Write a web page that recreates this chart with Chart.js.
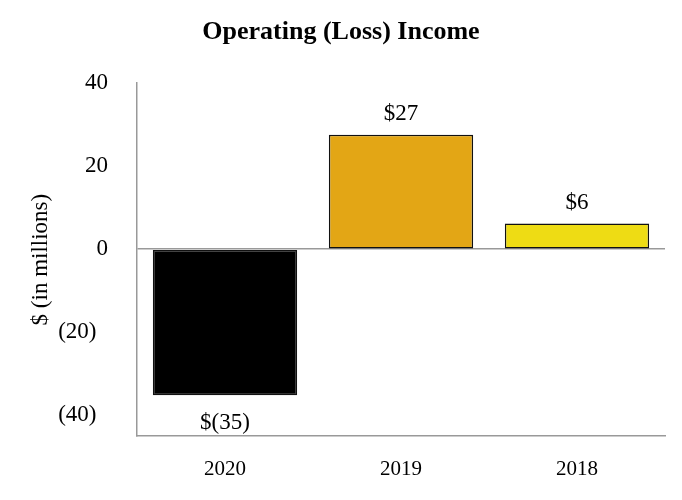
<!DOCTYPE html>
<html>
<head>
<meta charset="utf-8">
<script src="https://cdn.jsdelivr.net/npm/chart.js@4/dist/chart.umd.min.js"></script>
<style>
  html, body { margin: 0; padding: 0; background: #fff; }
  #wrap { width: 682px; height: 500px; }
</style>
</head>
<body>
<div id="wrap"><canvas id="incomeChart"></canvas></div>
<script>
// Operating (Loss) Income - values in $ millions
const years = ['2020', '2019', '2018'];
const income = [-35.2, 27.6, 6.2];
const valueLabels = ['$(35)', '$27', '$6'];
const yTicks = [40, 20, 0, -20, -40];
const barColors = ['#000000', '#E3A615', '#EEDC14'];

const serif = 'Liberation Serif, Times New Roman, serif';

// draws the $ labels above / below each bar
const barLabels = {
  id: 'barLabels',
  afterDatasetsDraw(chart) {
    const ctx = chart.ctx;
    const meta = chart.getDatasetMeta(0);
    ctx.save();
    ctx.font = '23px ' + serif;
    ctx.fillStyle = '#000';
    ctx.textAlign = 'center';
    ctx.textBaseline = 'middle';
    meta.data.forEach((bar, i) => {
      const v = income[i];
      const y = v >= 0 ? bar.y - 21 : bar.y + 28;
      ctx.fillText(valueLabels[i], bar.x, y);
    });
    ctx.restore();
  }
};

new Chart(document.getElementById('incomeChart').getContext('2d'), {
  type: 'bar',
  data: {
    labels: years,
    datasets: [{
      data: income,
      backgroundColor: barColors,
      borderColor: '#111',
      borderWidth: 1.5,
      borderSkipped: false,
      barPercentage: 0.82,
      categoryPercentage: 1
    }]
  },
  options: {
    responsive: true,
    maintainAspectRatio: false,
    animation: false,
    layout: { padding: { left: 17, right: 17, top: 0, bottom: 0 } },
    plugins: {
      legend: { display: false },
      tooltip: { enabled: false },
      title: {
        display: true,
        text: 'Operating (Loss) Income',
        color: '#000',
        font: { family: serif, size: 26, weight: 'bold' },
        padding: { top: 17, bottom: 35 }
      }
    },
    scales: {
      x: {
        grid: { display: false, drawTicks: false },
        border: { color: '#999', width: 1.5 },
        ticks: {
          color: '#000',
          font: { family: serif, size: 21 },
          padding: 21
        },
        afterFit(scale) { scale.height = 64; }
      },
      y: {
        min: -45,
        max: 40,
        afterBuildTicks(scale) {
          scale.ticks = yTicks.map(v => ({ value: v }));
        },
        grid: {
          drawTicks: false,
          lineWidth: 1.5,
          color: c => (c.tick && c.tick.value === 0) ? '#999' : 'rgba(0,0,0,0)'
        },
        border: { color: '#999', width: 1.5 },
        ticks: {
          color: '#000',
          font: { family: serif, size: 23 },
          padding: 29,
          callback: v => v < 0 ? '(' + Math.abs(v) + ')\u2002' : String(v)
        },
        title: {
          display: true,
          text: '$ (in millions)',
          color: '#000',
          font: { family: serif, size: 23 },
          padding: { top: 10, bottom: 0 }
        },
        afterFit(scale) { scale.width = 120; }
      }
    }
  },
  plugins: [barLabels]
});
</script>
</body>
</html>
